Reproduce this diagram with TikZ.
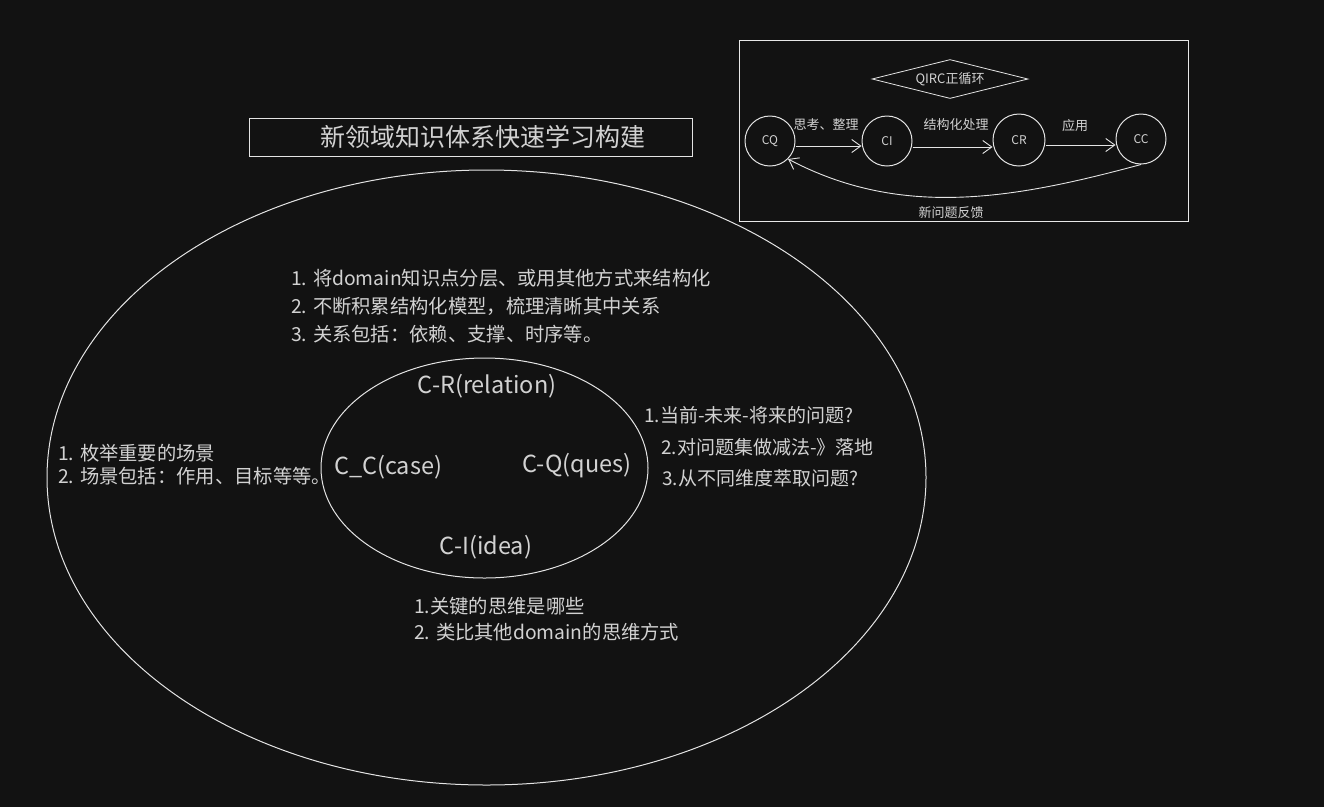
\documentclass[tikz,border=0pt]{standalone}
\usepackage{fontspec}
\setmainfont{Noto Sans CJK SC}
\definecolor{bgdark}{HTML}{121212}
\definecolor{inkwhite}{HTML}{E4E4E4}
\definecolor{inkgray}{HTML}{D2D2D2}
\usetikzlibrary{arrows.meta,positioning,shapes.geometric}

\begin{document}
\begin{tikzpicture}[x=1pt, y=-1pt,
  ring/.style={ellipse, draw=inkwhite, line width=1pt, inner sep=0pt},
  stage/.style={circle, draw=inkwhite, line width=1pt, minimum size=50pt,
                inner sep=0pt, font=\fontsize{12}{14}\selectfont, text=inkgray},
  tag/.style={font=\fontsize{13}{15}\selectfont, text=inkgray, inner sep=0pt},
  part/.style={font=\fontsize{23.5}{26}\selectfont, text=inkgray, inner sep=0pt},
  note/.style={align=left, anchor=west, text=inkgray, inner sep=0pt},
  arr/.style={-{Straight Barb[length=9pt, width=13pt]}, draw=inkwhite, line width=0.9pt}
]
\fill[bgdark] (0,0) rectangle (1324,807);
\useasboundingbox (0,0) rectangle (1324,807);

% Title
\node[draw=inkwhite, line width=0.9pt, minimum width=443pt, minimum height=38pt,
      text=inkgray, font=\fontsize{25}{28}\selectfont] (title) at (470.5,137)
  {\hspace*{25pt}新领域知识体系快速学习构建};

% Rings
\node[ring, minimum width=879pt, minimum height=615pt] (outer) at (486.5,477.5) {};
\node[ring, minimum width=327pt, minimum height=220pt] (inner) at (484.5,468) {};

\node[part] (rel)  at (487,386) {C-R(relation)};
\node[part] (case) at (388,467) {C\_C(case)};
\node[part] (ques) at (577,466) {C-Q(ques)};
\node[part] (idea) at (486,547) {C-I(idea)};

% Notes
\node[note, font=\fontsize{19.3}{28}\selectfont] (relnote) at (291,306)
  {1. 将domain知识点分层、或用其他方式来结构化\\
   2. 不断积累结构化模型，梳理清晰其中关系\\
   3. 关系包括：依赖、支撑、时序等。};
\node[note, font=\fontsize{19.3}{23}\selectfont] (casenote) at (58,465)
  {1. 枚举重要的场景\\
   2. 场景包括：作用、目标等等。};
\node[note, font=\fontsize{19}{31.5}\selectfont] (quesnote) at (644,447)
  {1.当前-未来-将来的问题?\\
   \hspace*{17pt}2.对问题集做减法-》落地\\
   \hspace*{18pt}3.从不同维度萃取问题?};
\node[note, font=\fontsize{19.3}{26}\selectfont] (ideanote) at (414,619)
  {1.关键的思维是哪些\\
   2. 类比其他domain的思维方式};

% QIRC loop
\node[draw=inkwhite!85, line width=0.8pt, minimum width=449pt, minimum height=181pt]
  (loopbox) at (963.5,130.5) {};
\node[diamond, draw=inkwhite, line width=0.8pt, aspect=4, minimum width=156pt,
      minimum height=39pt, inner sep=0pt, tag] (qirc) at (950,79) {QIRC正循环};

\node[stage] (cq) at (770,141) {CQ};
\node[stage] (ci) at (887,141) {CI};
\node[stage, minimum size=52pt] (cr) at (1019,140) {CR};
\node[stage] (cc) at (1141,139) {CC};

\draw[arr] (cq.east |- 0,146) -- (ci.west |- 0,146);
\draw[arr] (ci.east |- 0,147) -- (cr.west |- 0,147);
\draw[arr] (cr.east |- 0,145) -- (cc.west |- 0,145);
\draw[arr] (cc.south) .. controls (1010,200) and (900,218) .. (cq.south east);

\node[tag] (think) at (826,125) {思考、整理};
\node[tag] (struct) at (956,125) {结构化处理};
\node[tag] (apply) at (1075,126) {应用};
\node[tag] (feedback) at (951,213) {新问题反馈};
\end{tikzpicture}
\end{document}
